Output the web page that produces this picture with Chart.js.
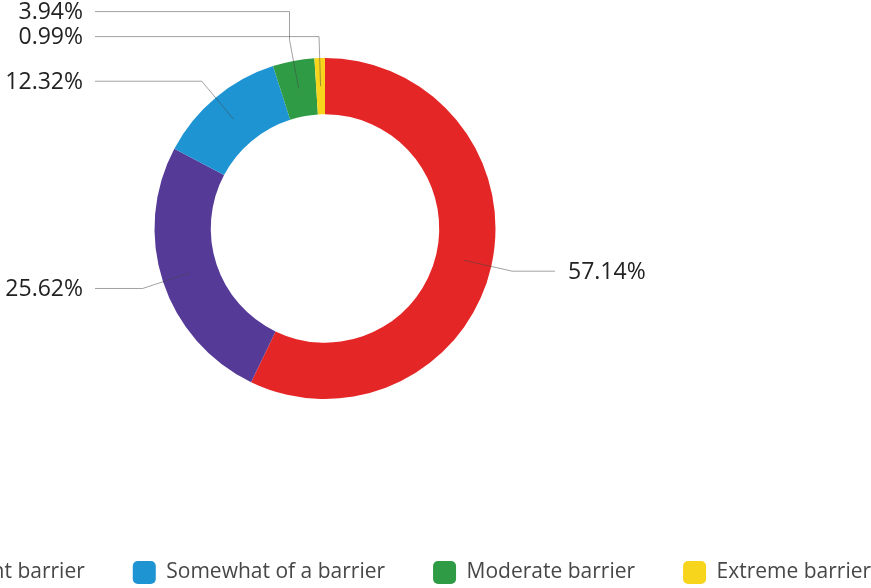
<!DOCTYPE html>
<html>
<head>
<meta charset="utf-8">
<title>Barrier ratings</title>
<script src="https://cdn.jsdelivr.net/npm/chart.js@4.4.1/dist/chart.umd.min.js"></script>
<style>
  html, body { margin: 0; padding: 0; background: #fff; overflow: hidden; width: 871px; height: 588px; }
  #ring { position: absolute; left: -395px; top: -56px; }
</style>
</head>
<body>
<canvas id="ring" width="1440" height="650"></canvas>
<script>
const categories = ['Not a barrier', 'Insignificant barrier', 'Somewhat of a barrier', 'Moderate barrier', 'Extreme barrier'];
const shares = [57.14, 25.62, 12.32, 3.94, 0.99];
const colours = ['#e42726', '#553a98', '#1e94d3', '#2f9c45', '#f8d51d'];

const GAP = 25;

// leader lines + percentage text outside the ring
const pieLabels = {
  id: 'pieLabels',
  afterDatasetsDraw(chart) {
    const ctx = chart.ctx;
    const values = chart.data.datasets[0].data;
    const items = chart.getDatasetMeta(0).data.map((arc, i) => {
      const p = arc.getProps(['x', 'y', 'startAngle', 'endAngle', 'innerRadius', 'outerRadius'], true);
      const a = (p.startAngle + p.endAngle) / 2;
      const cos = Math.cos(a), sin = Math.sin(a);
      const rIn = (p.innerRadius + p.outerRadius) / 2;
      const rOut = p.outerRadius + 21.5;
      return {
        value: values[i],
        right: cos >= 0,
        x0: p.x + cos * rIn, y0: p.y + sin * rIn,
        x1: p.x + cos * rOut, y1: p.y + sin * rOut,
        endX: p.x + (cos >= 0 ? 1 : -1) * (p.outerRadius + 59.5)
      };
    });

    [true, false].forEach(side => {
      const group = items.filter(it => it.right === side).sort((a, b) => a.y1 - b.y1);
      // neighbours that collide: the bigger share takes the upper slot
      for (let i = 0; i + 1 < group.length; i++) {
        if (group[i + 1].y1 - group[i].y1 < GAP && group[i + 1].value > group[i].value) {
          const t = group[i]; group[i] = group[i + 1]; group[i + 1] = t;
        }
      }
      let next = Infinity;
      for (let i = group.length - 1; i >= 0; i--) {
        group[i].ly = Math.min(group[i].y1, next - GAP);
        next = group[i].ly;
      }
    });

    ctx.save();
    ctx.strokeStyle = 'rgba(70,70,70,0.5)';
    ctx.lineWidth = 1;
    ctx.font = '23px "Open Sans"';
    ctx.fillStyle = '#222';
    ctx.textBaseline = 'middle';
    items.forEach(it => {
      ctx.beginPath();
      ctx.moveTo(it.x0, it.y0);
      ctx.lineTo(it.x1, it.y1);
      ctx.lineTo(it.x1, it.ly);
      ctx.lineTo(it.endX, it.ly);
      ctx.stroke();
      const txt = it.value.toFixed(2) + '%';
      if (it.right) {
        ctx.textAlign = 'left';
        ctx.fillText(txt, it.endX + 13, it.ly + 1);
      } else {
        ctx.textAlign = 'right';
        ctx.fillText(txt, it.endX - 12, it.ly + 1);
      }
    });
    ctx.restore();
  }
};

new Chart(document.getElementById('ring'), {
  type: 'doughnut',
  data: {
    labels: categories,
    datasets: [{
      data: shares,
      backgroundColor: colours,
      borderWidth: 0,
      radius: 170.5,
      cutout: '67%'
    }]
  },
  options: {
    responsive: false,
    animation: false,
    plugins: {
      legend: {
        position: 'bottom',
        align: 'start',
        labels: {
          boxWidth: 23,
          boxHeight: 23,
          useBorderRadius: true,
          borderRadius: 5,
          padding: 48,
          color: '#474747',
          font: { family: 'Open Sans', size: 21 }
        }
      },
      tooltip: { enabled: false }
    }
  },
  plugins: [pieLabels]
});
</script>
</body>
</html>
